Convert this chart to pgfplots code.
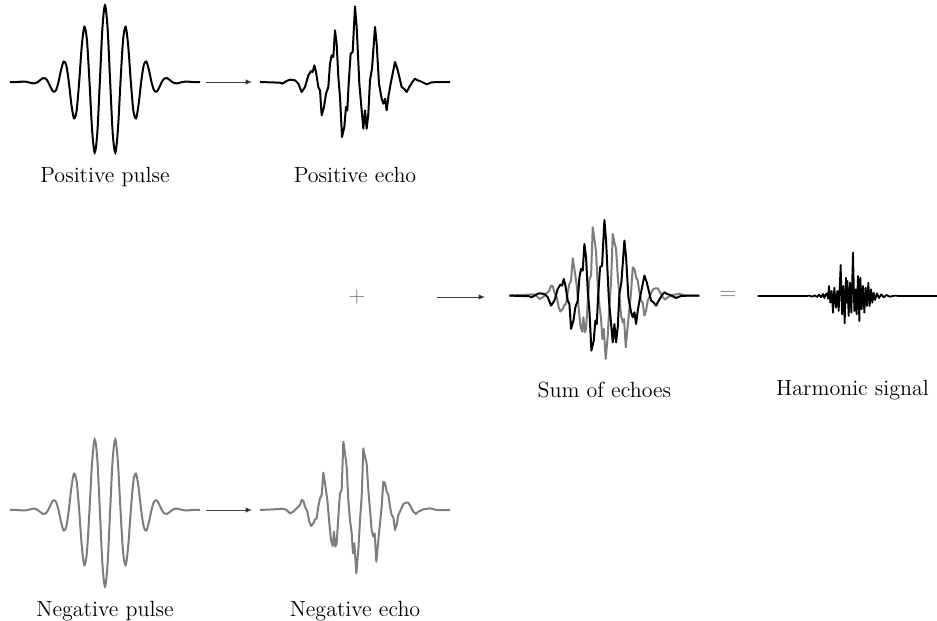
\documentclass[border=0pt]{standalone}
\usepackage{pgfplots}
\usepackage{pgfplotstable}
\pgfplotsset{compat=1.18}
\usetikzlibrary{arrows.meta}
\definecolor{echogray}{RGB}{125,125,125}
\begin{document}
\begin{tikzpicture}
\useasboundingbox (0,0) rectangle (468.5pt,-310.5pt);
\pgfplotsset{
  panel/.style={hide axis, clip=false, anchor=origin},
  pulse/.style={panel, x=10.333pt, y=38.333pt, xmin=-4.6, xmax=4.6, ymin=-1.1, ymax=1.1},
  echo/.style={panel, x=0.16667pt, y=0.16667pt, xmin=-285, xmax=285, ymin=-240, ymax=240},
}
\tikzset{lbl/.style={font=\fontsize{11}{13}\selectfont, anchor=base}}
\pgfplotstableread{
u v w
-4.6 0 0
-4.25 0 0
-4 0.005 -0.005
-3.875 0.005 -0.005
-3.75 0 0
-3.625 -0.009 0.009
-3.5 -0.017 0.017
-3.375 -0.016 0.016
-3.25 0 0
-3.125 0.028 -0.028
-3 0.051 -0.051
-2.875 0.046 -0.046
-2.75 0 0
-2.625 -0.072 0.072
-2.5 -0.126 0.126
-2.375 -0.109 0.109
-2.25 0 0
-2.125 0.158 -0.158
-2 0.266 -0.266
-1.875 0.220 -0.220
-1.75 0 0
-1.625 -0.295 0.295
-1.5 -0.474 0.474
-1.375 -0.378 0.378
-1.25 0 0
-1.125 0.465 -0.465
-1 0.718 -0.718
-0.875 0.549 -0.549
-0.75 0 0
-0.625 -0.621 0.621
-0.5 -0.920 0.920
-0.375 -0.675 0.675
-0.25 0 0
-0.125 0.703 -0.703
0 1 -1
0.125 0.703 -0.703
0.25 0 0
0.375 -0.675 0.675
0.5 -0.920 0.920
0.625 -0.621 0.621
0.75 0 0
0.875 0.549 -0.549
1 0.718 -0.718
1.125 0.465 -0.465
1.25 0 0
1.375 -0.378 0.378
1.5 -0.474 0.474
1.625 -0.295 0.295
1.75 0 0
1.875 0.220 -0.220
2 0.266 -0.266
2.125 0.158 -0.158
2.25 0 0
2.375 -0.109 0.109
2.5 -0.126 0.126
2.625 -0.072 0.072
2.75 0 0
2.875 0.046 -0.046
3 0.051 -0.051
3.125 0.028 -0.028
3.25 0 0
3.375 -0.016 0.016
3.5 -0.017 0.017
3.625 -0.009 0.009
3.75 0 0
3.875 0.005 -0.005
4 0.005 -0.005
4.25 0 0
4.6 0 0
}\pulsetable
\pgfplotstableread{
x y
-285 0
-225 -2
-218 -5
-205 3
-195 7
-180 5
-170 -5
-160 -30
-150 -15
-140 20
-132 33
-127 30
-122 50
-117 30
-110 -15
-105 -25
-100 -100
-93 -75
-87 -35
-80 -15
-75 55
-70 80
-65 75
-60 155
-55 115
-50 15
-45 -45
-39 -165
-32 -135
-27 -75
-23 -85
-19 -5
-13 85
-7 90
0 227
5 165
13 -5
20 -85
25 -140
30 -85
35 -140
40 -95
45 5
51 40
55 95
60 165
65 115
72 -5
80 -50
85 -65
90 -50
95 -85
100 -45
107 -5
113 25
120 60
127 40
133 15
140 -15
147 -20
155 -30
163 -15
172 0
180 10
188 5
197 2
215 -7
230 -1
255 0
285 0
}\posecho
\pgfplotstableread{
x y
-285 0
-225 3
-215 4
-205 0
-195 -10
-185 -5
-175 5
-165 15
-160 30
-155 28
-150 10
-143 -5
-137 -35
-132 -48
-125 -40
-120 -28
-115 -25
-110 10
-105 35
-100 45
-95 112
-90 80
-83 30
-77 -40
-72 -90
-67 -108
-63 -65
-59 -110
-55 -100
-50 -20
-45 50
-40 60
-35 205
-30 170
-25 130
-20 30
-15 -30
-10 -70
-6 -130
-2 -100
4 -190
10 -120
15 -30
20 40
25 185
30 160
35 140
40 60
45 0
50 -60
55 -80
59 -70
64 -155
70 -90
75 -40
80 10
85 85
90 80
95 55
100 45
105 10
110 -15
115 -22
120 -60
125 -45
130 -15
137 0
145 18
153 22
160 22
167 10
175 -5
183 -12
190 -5
205 2
225 5
245 0
285 0
}\negecho
\pgfplotstableread{
x y
-286 0
-140 0
-130 1
-122 -2
-115 2
-108 -3
-102 4
-96 -4
-90 6
-86 -6
-82 5
-78 8
-75 -8
-72 30
-68 -20
-64 15
-60 -50
-56 25
-51 -35
-47 15
-43 -45
-37 93
-33 -55
-29 30
-25 -82
-21 55
-19 -20
-17 45
-13 -60
-9 40
-5 -50
0 130
4 -45
8 20
11 -55
15 60
19 -75
22 55
26 -40
30 30
34 -50
38 25
42 -30
46 40
50 -30
54 20
58 -20
62 10
66 -12
72 8
78 -6
85 5
92 -4
100 3
110 -2
125 1
140 0
252 0
}\harmonic

% positive pulse
\begin{axis}[pulse, at={(52.5pt,-41pt)}]
\addplot[black, line width=1pt, smooth] table[x=u, y=v] {\pulsetable};
\end{axis}
% positive echo
\begin{axis}[echo, at={(177.5pt,-41pt)}]
\addplot[black, line width=1pt, line join=round] table[x=x, y=y] {\posecho};
\end{axis}
% negative pulse
\begin{axis}[pulse, at={(52.5pt,-255pt)}]
\addplot[echogray, line width=1pt, smooth] table[x=u, y=w] {\pulsetable};
\end{axis}
% negative echo
\begin{axis}[echo, at={(177.5pt,-255pt)}]
\addplot[echogray, line width=1pt, line join=round] table[x=x, y=y] {\negecho};
\end{axis}
% sum of echoes
\begin{axis}[echo, at={(302.2pt,-147.8pt)}]
\addplot[echogray, line width=1pt, line join=round] table[x=x, y=y] {\negecho};
\addplot[black, line width=1pt, line join=round] table[x=x, y=y] {\posecho};
\end{axis}
% harmonic signal
\begin{axis}[echo, xmin=-286, xmax=252, at={(426.5pt,-148pt)}]
\addplot[black, line width=0.9pt, line join=round] table[x=x, y=y] {\harmonic};
\end{axis}

% arrows and symbols
\tikzset{arr/.style={black!75, line width=0.5pt, -{Latex[length=3.2pt,width=2.8pt,fill=black]}}}
\draw[arr] (103pt,-41pt) -- (126pt,-41pt);
\draw[arr] (103pt,-255pt) -- (126pt,-255pt);
\draw[arr] (218.5pt,-148.5pt) -- (242.5pt,-148.5pt);
\node[font=\fontsize{11}{13}\selectfont, text=echogray] at (178.5pt,-148.5pt) {$+$};
\node[font=\fontsize{11}{13}\selectfont, text=echogray] at (364pt,-147.5pt) {$=$};

% labels
\node[lbl] at (52.5pt,-91pt) {Positive pulse};
\node[lbl] at (177.5pt,-91pt) {Positive echo};
\node[lbl] at (302.2pt,-198.5pt) {Sum of echoes};
\node[lbl] at (426.3pt,-197.5pt) {Harmonic signal};
\node[lbl] at (52.5pt,-308pt) {Negative pulse};
\node[lbl] at (177.5pt,-308pt) {Negative echo};
\end{tikzpicture}
\end{document}
